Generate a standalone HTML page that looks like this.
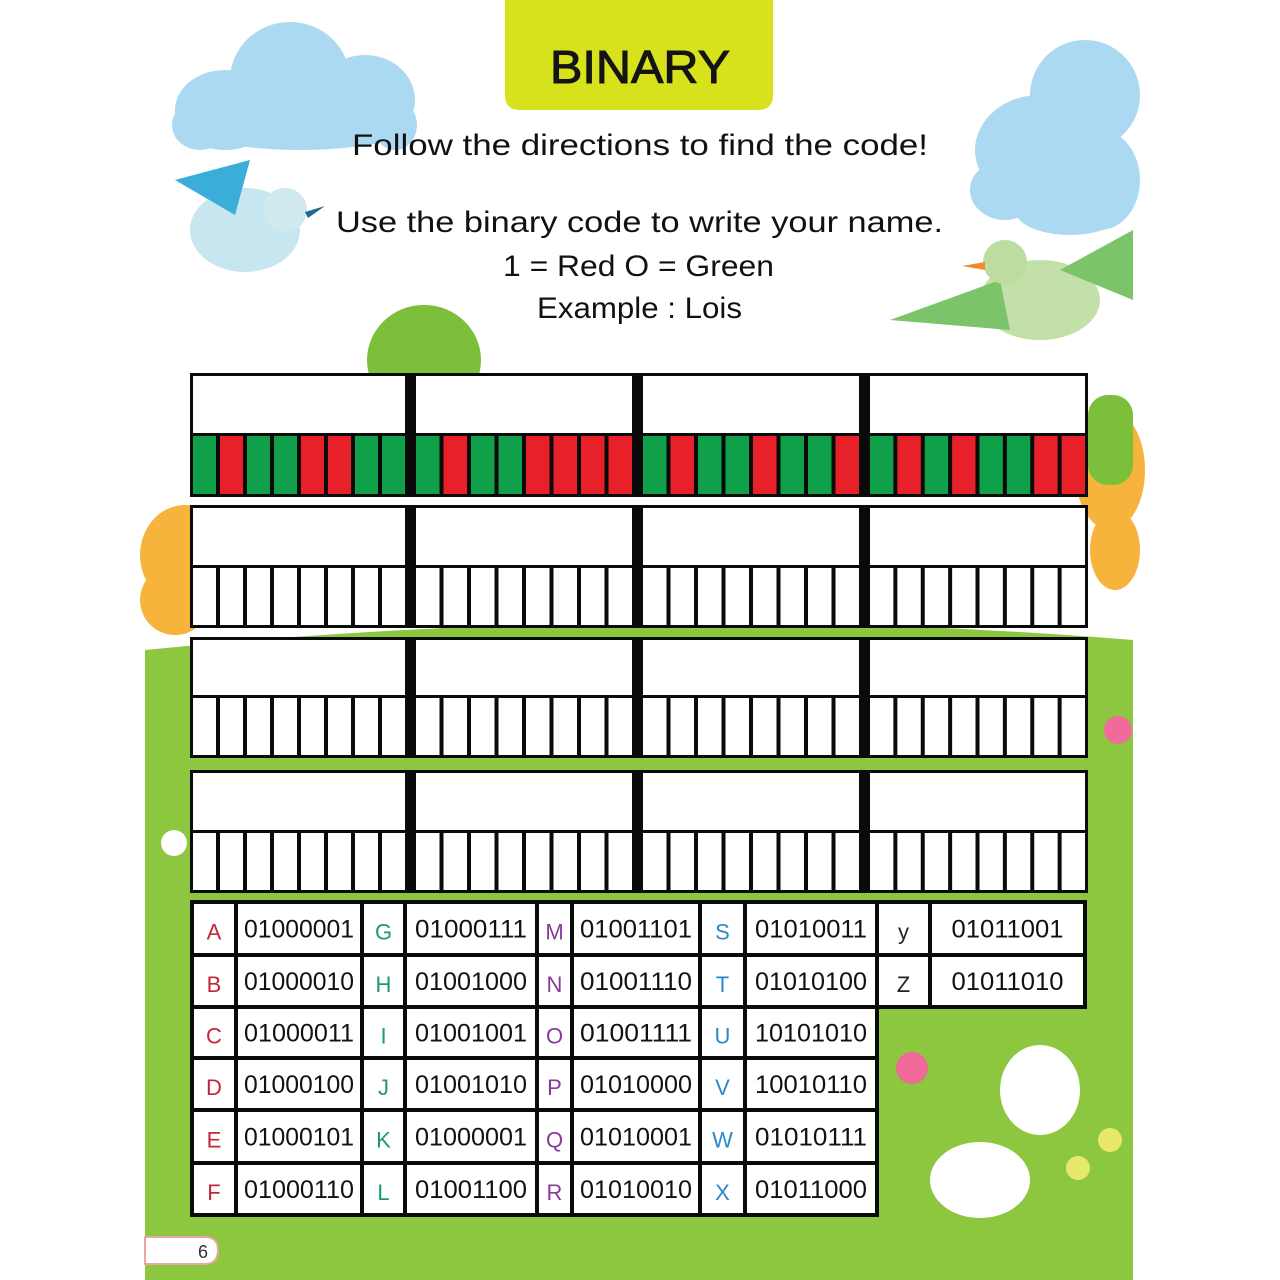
<!DOCTYPE html>
<html><head><meta charset="utf-8"><style>
html,body{margin:0;padding:0;background:#fff;width:1280px;height:1280px;overflow:hidden}
svg{display:block}
text{font-family:"Liberation Sans",sans-serif}
</style></head><body>
<svg id="s" width="1280" height="1280" viewBox="0 0 1280 1280" xmlns="http://www.w3.org/2000/svg">
<rect x="0" y="0" width="1280" height="1280" fill="#fff"/>
<!-- clouds -->
<g fill="#acd9f2">
<ellipse cx="225" cy="110" rx="50" ry="40"/><ellipse cx="290" cy="80" rx="60" ry="58"/><ellipse cx="365" cy="100" rx="50" ry="45"/><ellipse cx="395" cy="125" rx="22" ry="25"/><ellipse cx="200" cy="125" rx="28" ry="25"/><ellipse cx="300" cy="130" rx="100" ry="20"/>
<ellipse cx="1085" cy="95" rx="55" ry="55"/><ellipse cx="1040" cy="150" rx="65" ry="55"/><ellipse cx="1005" cy="190" rx="35" ry="30"/><ellipse cx="1100" cy="180" rx="40" ry="50"/><ellipse cx="1070" cy="210" rx="55" ry="25"/>
</g>
<!-- trees -->
<ellipse cx="424" cy="360" rx="57" ry="55" fill="#7cbf3b"/>
<g fill="#f6b43c"><ellipse cx="185" cy="555" rx="45" ry="50"/><ellipse cx="175" cy="600" rx="35" ry="35"/>
<ellipse cx="1110" cy="470" rx="35" ry="60"/><ellipse cx="1115" cy="550" rx="25" ry="40"/></g>
<rect x="1088" y="395" width="45" height="90" fill="#7cbf3b" rx="20"/>
<!-- grass -->
<path d="M145 650 Q 640 600 1133 640 L1133 1280 L145 1280 Z" fill="#8dc63f"/>
<!-- title -->
<path d="M505 0 H773 V95 Q773 110 758 110 H520 Q505 110 505 95 Z" fill="#d7e21d"/>
<text x="640" y="83" text-anchor="middle" font-size="46" fill="#141414" stroke="#141414" stroke-width="1" textLength="180" lengthAdjust="spacingAndGlyphs">BINARY</text>
<g fill="#111" font-size="30">
<text x="352" y="155" textLength="576" lengthAdjust="spacingAndGlyphs">Follow the directions to find the code!</text>
<text x="336" y="232" textLength="607" lengthAdjust="spacingAndGlyphs">Use the binary code to write your name.</text>
<text x="503" y="276" textLength="271" lengthAdjust="spacingAndGlyphs">1 = Red  O = Green</text>
<text x="537" y="318" textLength="205" lengthAdjust="spacingAndGlyphs">Example : Lois</text>
</g>
<!-- birds -->
<ellipse cx="245" cy="230" rx="55" ry="42" fill="#c7e6ef"/><path d="M175 180 L250 160 L235 215 Z" fill="#3aaed8"/><circle cx="285" cy="210" r="22" fill="#cfe9ee"/><path d="M305 212 L325 206 L308 218 Z" fill="#1a6a9a"/>
<ellipse cx="1040" cy="300" rx="60" ry="40" fill="#c2e0a8"/><path d="M890 320 L1000 280 L1010 330 Z" fill="#7cc46a"/><path d="M1060 270 L1133 230 L1133 300 Z" fill="#7cc46a"/><circle cx="1005" cy="262" r="22" fill="#bcdca0"/><path d="M985 262 L962 266 L985 270 Z" fill="#f08a30"/>
<!-- chickens -->
<ellipse cx="1040" cy="1090" rx="40" ry="45" fill="#fff"/><ellipse cx="980" cy="1180" rx="50" ry="38" fill="#fff"/>
<circle cx="1110" cy="1140" r="12" fill="#e7e76a"/><circle cx="1078" cy="1168" r="12" fill="#e7e76a"/>
<circle cx="912" cy="1068" r="16" fill="#f06a9a"/><circle cx="1118" cy="730" r="14" fill="#f06a9a"/><circle cx="174" cy="843" r="13" fill="#fff"/>
<!-- page number -->
<path d="M145 1237 H205 Q218 1237 218 1250 Q218 1264 205 1264 H145 Z" fill="#fff" stroke="#e6a8a0" stroke-width="2"/>
<text x="203" y="1258" font-size="18" fill="#333" text-anchor="middle">6</text>
<g id="grid"></g>
<g id="tbl"></g>
</svg>
<script>
var NS="http://www.w3.org/2000/svg";
function R(p,x,y,w,h,f){var r=document.createElementNS(NS,"rect");r.setAttribute("x",x);r.setAttribute("y",y);r.setAttribute("width",w);r.setAttribute("height",h);r.setAttribute("fill",f);p.appendChild(r);}
function T(p,x,y,s,c,sz,tl){var t=document.createElementNS(NS,"text");t.setAttribute("x",x);t.setAttribute("y",y);t.setAttribute("fill",c);t.setAttribute("font-size",sz);t.setAttribute("text-anchor","middle");if(tl){t.setAttribute("textLength",tl);t.setAttribute("lengthAdjust","spacingAndGlyphs");}t.textContent=s;p.appendChild(t);}
var g=document.getElementById("grid");
var rows=[[373,435,497],[505,567,628],[637,697,758],[770,832,893]];
var cols=[[193,405],[416,632],[643,859],[870,1085]];
var bits=["01001100","01001111","01001001","01010011"];
rows.forEach(function(r,ri){
 R(g,190,r[0],898,r[2]-r[0],"#0a0a0a");
 cols.forEach(function(c,ci){
  R(g,c[0],r[0]+3,c[1]-c[0],r[1]-r[0]-5,"#fff");
  var w=(c[1]-c[0]-7*4)/8;
  for(var i=0;i<8;i++){
   var f="#fff";
   if(ri==0)f=bits[ci][i]=="1"?"#e8202a":"#10a04a";
   R(g,c[0]+i*(w+4),r[1]+1,w,r[2]-r[1]-4,f);
  }
 });
});
var tb=document.getElementById("tbl");
var ys=[902,955,1007,1058,1110,1163,1215];
var cx=[192,236,362,405,537,572,700,745,877,930,1085];
var L=[["A","01000001","G","01000111","M","01001101","S","01010011","y","01011001"],
["B","01000010","H","01001000","N","01001110","T","01010100","Z","01011010"],
["C","01000011","I","01001001","O","01001111","U","10101010"],
["D","01000100","J","01001010","P","01010000","V","10010110"],
["E","01000101","K","01000001","Q","01010001","W","01010111"],
["F","01000110","L","01001100","R","01010010","X","01011000"]];
var lc=["#c0283a","#1e9a6a","#8a3a98","#2a8ac8","#222"];
for(var r=0;r<6;r++){
 var n=L[r].length;var xe=cx[n];
 R(tb,cx[0]-2,ys[r]-2,xe-cx[0]+4,ys[r+1]-ys[r]+4,"#0a0a0a");
 for(var k=0;k<n;k++){
  R(tb,cx[k]+2,ys[r]+2,cx[k+1]-cx[k]-4,ys[r+1]-ys[r]-4,"#fff");
  var mx=(cx[k]+cx[k+1])/2,my=(ys[r]+ys[r+1])/2+9;
  if(k%2==0)T(tb,mx,my+2,L[r][k],lc[k/2],22);
  else T(tb,mx,my,L[r][k],"#111",25,Math.min(112,cx[k+1]-cx[k]-16));
 }
}
</script>
</body></html>
